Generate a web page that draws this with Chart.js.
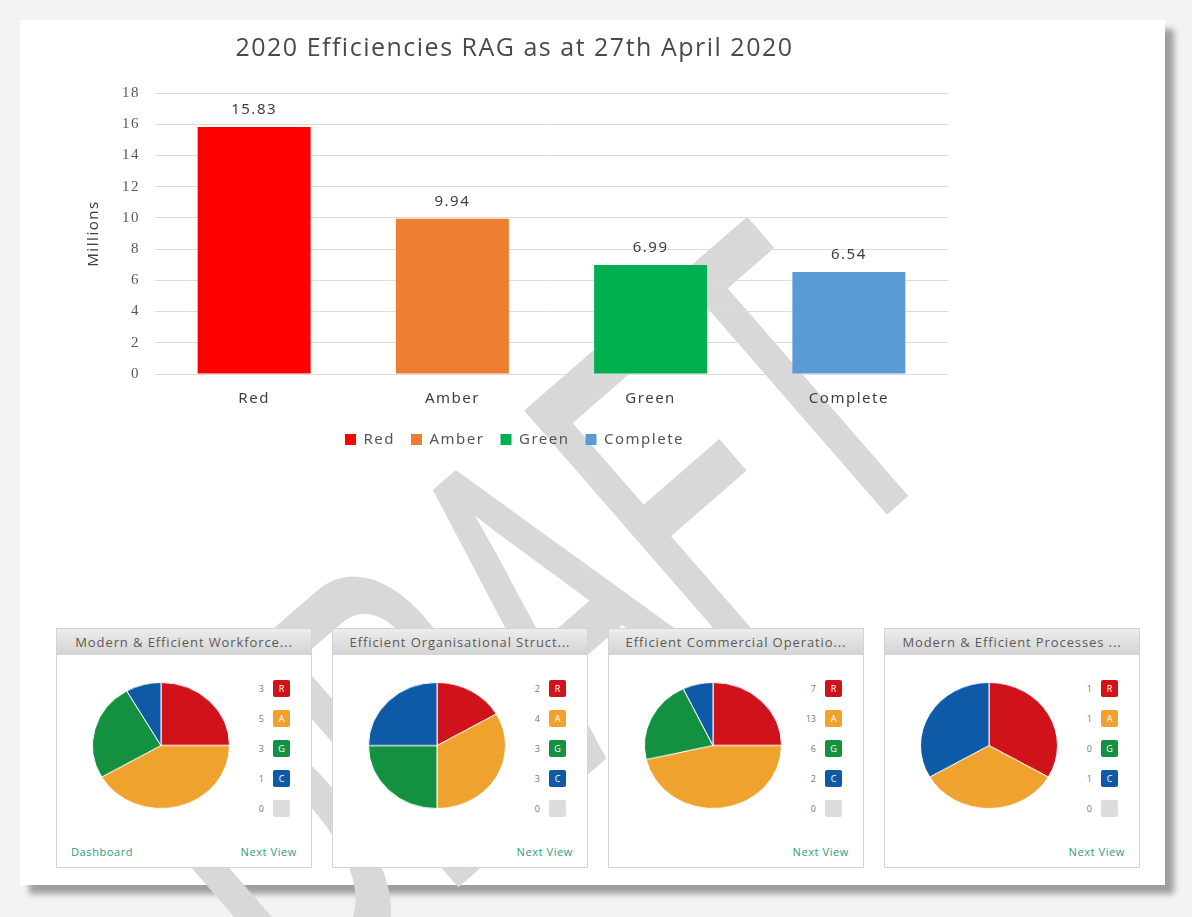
<!DOCTYPE html>
<html>
<head>
<meta charset="utf-8">
<script src="https://cdn.jsdelivr.net/npm/chart.js@4"></script>
<style>
  html, body { margin: 0; padding: 0; }
  body { width: 1192px; height: 917px; background: #f3f3f3; position: relative; overflow: hidden; font-family: "Open Sans", sans-serif; }
  #card { position: absolute; left: 20px; top: 20px; width: 1145px; height: 865px; background: #fff; box-shadow: 9px 9px 6px rgba(0,0,0,0.35); }
  #draft { position: absolute; left: 525px; top: 618px; transform: translate(-50%, -50%) rotate(-41deg) scaleX(0.58); font-family: "Liberation Sans", sans-serif; font-size: 450px; line-height: 1; color: #d8d8d8; -webkit-text-stroke: 7px #d8d8d8; white-space: nowrap; pointer-events: none; }
  #barWrap { position: absolute; left: 30px; top: 24px; width: 960px; height: 440px; }
  .widget { position: absolute; top: 628px; width: 254px; height: 238px; border: 1px solid #d3d3d3; background: #fff; }
  .widget .head { height: 26px; line-height: 26px; background: linear-gradient(#ededed, #d3d3d3); color: #5a5a5a; font-size: 13px; letter-spacing: 0.9px; text-align: center; white-space: nowrap; overflow: hidden; }
  .widget canvas { position: absolute; }
  .legendRow { position: absolute; left: 180px; width: 53px; height: 17px; font-size: 9px; color: #777; }
  .legendRow .num { position: absolute; right: 26px; top: 2px; }
  .legendRow .box { position: absolute; right: 0; top: 0; width: 17px; height: 17px; color: #fff; font-size: 9px; text-align: center; line-height: 17px; border-radius: 2px; }
  .link { position: absolute; bottom: 8px; font-size: 11px; letter-spacing: 0.6px; color: #2f9c83; }
</style>
</head>
<body>
<div id="card"></div>
<div id="draft">DRAFT</div>
<div id="barWrap"><canvas id="barChart"></canvas></div>
<div id="widgets"></div>
<script>
// bar chart data
const categories = ["Red", "Amber", "Green", "Complete"];
const millions = [15.83, 9.94, 6.99, 6.54];
const barColors = ["#ff0000", "#ed7d31", "#00b050", "#5b9bd5"];

// pie widgets data
const widgetTitles = ["Modern & Efficient Workforce...", "Efficient Organisational Struct...", "Efficient Commercial Operatio...", "Modern & Efficient Processes ..."];
const ragLetters = ["R", "A", "G", "C"];
const ragColors = ["#d0121b", "#f0a22e", "#149140", "#0e5aa7"];
const workforceCounts = [3, 5, 3, 1];
const organisationCounts = [2, 4, 3, 3];
const commercialCounts = [7, 13, 6, 2];
const processesCounts = [1, 1, 0, 1];
const unassignedCounts = [0, 0, 0, 0];
const widgetLefts = [56, 332, 608, 884];

// wider text like the original
const spacing = {
    id: "spacing",
    beforeLayout(chart) { chart.ctx.letterSpacing = "1.5px"; },
    beforeDraw(chart) { chart.ctx.letterSpacing = "1.5px"; }
};

const valueLabels = {
    id: "valueLabels",
    afterDatasetsDraw(chart) {
        const ctx = chart.ctx;
        const meta = chart.getDatasetMeta(0);
        ctx.save();
        ctx.font = "15px 'Noto Sans'";
        ctx.fillStyle = "#404040";
        ctx.textAlign = "center";
        ctx.textBaseline = "bottom";
        meta.data.forEach(function (bar, i) {
            ctx.fillText(millions[i].toFixed(2), bar.x, bar.y - 10);
        });
        ctx.restore();
    }
};

new Chart(document.getElementById("barChart").getContext("2d"), {
    type: "bar",
    data: {
        labels: categories,
        datasets: [{
            data: millions,
            backgroundColor: barColors,
            barPercentage: 0.57,
            categoryPercentage: 1
        }]
    },
    options: {
        responsive: true,
        maintainAspectRatio: false,
        animation: false,
        layout: { padding: { left: 51, right: 42, top: 0, bottom: 7 } },
        plugins: {
            tooltip: { enabled: false },
            title: {
                display: true,
                text: "2020 Efficiencies RAG as at 27th April 2020",
                color: "#4a4a4a",
                font: { family: "Open Sans", size: 25, weight: "normal" },
                padding: { top: 10, bottom: 29 }
            },
            legend: {
                position: "bottom",
                labels: {
                    color: "#555",
                    font: { family: "Noto Sans", size: 15 },
                    boxWidth: 11,
                    boxHeight: 11,
                    padding: 16,
                    generateLabels: function () {
                        return categories.map(function (c, i) {
                            return { text: c, fillStyle: barColors[i], strokeStyle: barColors[i], lineWidth: 0, fontColor: "#555", index: i };
                        });
                    }
                }
            }
        },
        scales: {
            x: {
                grid: { display: false },
                border: { display: false },
                ticks: { color: "#404040", font: { family: "Noto Sans", size: 15 }, padding: 8 }
            },
            y: {
                min: 0,
                max: 18,
                ticks: { stepSize: 2, color: "#595959", font: { family: "Liberation Serif", size: 15 }, padding: 15 },
                grid: { color: "#dcdcdc", drawTicks: false },
                border: { display: false },
                title: { display: true, text: "Millions", color: "#404040", font: { family: "Noto Sans", size: 15 }, padding: 4 }
            }
        }
    },
    plugins: [spacing, valueLabels]
});

const allCounts = [workforceCounts, organisationCounts, commercialCounts, processesCounts];
const widgetsEl = document.getElementById("widgets");

widgetTitles.forEach(function (title, w) {
    const box = document.createElement("div");
    box.className = "widget";
    box.style.left = widgetLefts[w] + "px";
    box.innerHTML = "<div class='head'>" + title.replace("&", "&amp;") + "</div>";

    const cv = document.createElement("canvas");
    cv.width = 138;
    cv.height = 138;
    cv.style.width = "138px";
    cv.style.height = "127px";
    cv.style.left = "35px";
    cv.style.top = "53px";
    box.appendChild(cv);

    const counts = allCounts[w];
    ragLetters.concat([""]).forEach(function (letter, r) {
        const row = document.createElement("div");
        row.className = "legendRow";
        row.style.top = (51 + r * 30) + "px";
        const n = r < 4 ? counts[r] : unassignedCounts[w];
        const col = r < 4 ? ragColors[r] : "#dcdcdc";
        row.innerHTML = "<span class='num'>" + n + "</span><span class='box' style='background:" + col + "'>" + letter + "</span>";
        box.appendChild(row);
    });

    if (w === 0) {
        const dash = document.createElement("div");
        dash.className = "link";
        dash.style.left = "14px";
        dash.textContent = "Dashboard";
        box.appendChild(dash);
    }
    const next = document.createElement("div");
    next.className = "link";
    next.style.right = "14px";
    next.textContent = "Next View";
    box.appendChild(next);

    widgetsEl.appendChild(box);

    new Chart(cv.getContext("2d"), {
        type: "pie",
        data: {
            labels: ragLetters,
            datasets: [{ data: counts, backgroundColor: ragColors, borderColor: "#ffffff", borderWidth: 1 }]
        },
        options: {
            responsive: false,
            animation: false,
            plugins: { legend: { display: false }, tooltip: { enabled: false } }
        }
    });
});
</script>
</body>
</html>
